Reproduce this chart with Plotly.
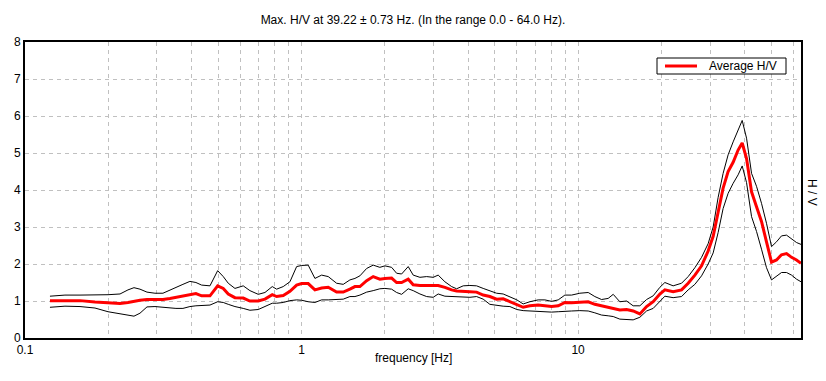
import plotly.graph_objects as go

# Frequencies (Hz)
freq = [0.1231, 0.1395, 0.1581, 0.1791, 0.1996, 0.2206, 0.2357, 0.2478, 0.2605, 0.2761,
        0.2951, 0.3154, 0.3343, 0.3514, 0.3725, 0.3948, 0.4150, 0.4352, 0.4665, 0.4974,
        0.5211, 0.5433, 0.5744, 0.6154, 0.6506, 0.6974, 0.7375, 0.7837, 0.8128, 0.8586,
        0.9080, 0.9600, 1.001, 1.057, 1.118, 1.182, 1.249, 1.339, 1.415, 1.496,
        1.560, 1.626, 1.720, 1.816, 1.920, 2.002, 2.117, 2.207, 2.301, 2.431,
        2.534, 2.680, 2.834, 2.993, 3.120, 3.299, 3.489, 3.637, 3.843, 4.063,
        4.295, 4.538, 4.798, 5.074, 5.360, 5.668, 6.007, 6.331, 6.694, 7.173,
        7.586, 8.021, 8.475, 8.960, 9.474, 10.15, 10.88, 11.50, 12.16, 12.85,
        13.40, 14.16, 14.98, 15.82, 16.73, 17.69, 18.69, 19.76, 20.60, 22.07,
        23.67, 25.01, 26.45, 27.96, 29.54, 30.80, 32.10, 33.46, 34.88, 36.37,
        37.91, 39.22, 40.67, 42.40, 44.19, 46.06, 48.02, 50.07, 52.20, 54.41,
        56.73, 59.15, 61.66, 64.0]

avg_hv = [1.01, 1.01, 1.01, 0.97, 0.95, 0.93, 0.96, 1.00, 1.02, 1.04,
          1.04, 1.04, 1.07, 1.10, 1.13, 1.18, 1.20, 1.14, 1.14, 1.41,
          1.34, 1.19, 1.09, 1.08, 1.00, 1.00, 1.05, 1.17, 1.12, 1.15,
          1.26, 1.43, 1.47, 1.47, 1.30, 1.35, 1.37, 1.24, 1.24, 1.32,
          1.39, 1.39, 1.55, 1.66, 1.59, 1.61, 1.62, 1.50, 1.50, 1.59,
          1.44, 1.42, 1.42, 1.41, 1.42, 1.37, 1.30, 1.27, 1.27, 1.25,
          1.24, 1.16, 1.12, 1.05, 1.06, 0.98, 0.91, 0.83, 0.87, 0.89,
          0.87, 0.85, 0.87, 0.96, 0.95, 0.96, 0.98, 0.91, 0.87, 0.85,
          0.82, 0.76, 0.77, 0.73, 0.65, 0.85, 0.98, 1.19, 1.30, 1.25,
          1.30, 1.48, 1.70, 1.95, 2.35, 2.75, 3.40, 4.05, 4.50, 4.75,
          5.08, 5.27, 4.85, 3.95, 3.55, 3.15, 2.60, 2.05, 2.11, 2.25,
          2.28, 2.18, 2.11, 2.02]

upper_hv = [1.13, 1.16, 1.16, 1.16, 1.17, 1.19, 1.30, 1.36, 1.32, 1.24,
            1.21, 1.21, 1.30, 1.37, 1.45, 1.53, 1.50, 1.43, 1.41, 1.82,
            1.66, 1.48, 1.34, 1.41, 1.28, 1.18, 1.23, 1.39, 1.32, 1.39,
            1.52, 1.93, 1.96, 1.97, 1.61, 1.70, 1.66, 1.48, 1.45, 1.57,
            1.61, 1.68, 1.88, 1.97, 1.91, 1.95, 1.91, 1.75, 1.73, 1.93,
            1.70, 1.64, 1.66, 1.64, 1.70, 1.52, 1.39, 1.33, 1.41, 1.42,
            1.41, 1.34, 1.28, 1.21, 1.19, 1.12, 1.03, 0.92, 0.98, 1.03,
            1.03, 0.99, 1.03, 1.16, 1.16, 1.21, 1.23, 1.12, 1.04, 1.07,
            1.18, 0.98, 1.00, 0.87, 0.87, 1.04, 1.14, 1.37, 1.50, 1.41,
            1.48, 1.66, 1.90, 2.18, 2.55, 3.00, 3.80, 4.45, 4.95, 5.30,
            5.60, 5.88, 5.40, 4.45, 4.10, 3.64, 3.10, 2.47, 2.60, 2.76,
            2.78, 2.67, 2.58, 2.53]

lower_hv = [0.83, 0.86, 0.85, 0.81, 0.71, 0.65, 0.61, 0.59, 0.67, 0.84,
            0.85, 0.83, 0.80, 0.80, 0.80, 0.85, 0.87, 0.87, 0.89, 0.98,
            0.96, 0.91, 0.85, 0.80, 0.75, 0.77, 0.86, 0.94, 0.94, 0.96,
            1.01, 1.03, 1.02, 0.98, 0.96, 1.03, 1.03, 1.03, 1.05, 1.12,
            1.12, 1.16, 1.24, 1.28, 1.33, 1.34, 1.32, 1.23, 1.18, 1.33,
            1.28, 1.19, 1.12, 1.10, 1.19, 1.13, 1.12, 1.13, 1.11, 1.10,
            1.12, 1.05, 0.91, 0.88, 0.86, 0.85, 0.77, 0.74, 0.73, 0.73,
            0.72, 0.70, 0.71, 0.73, 0.73, 0.74, 0.73, 0.68, 0.62, 0.60,
            0.58, 0.51, 0.49, 0.49, 0.56, 0.73, 0.80, 0.98, 1.13, 1.09,
            1.12, 1.30, 1.45, 1.68, 2.00, 2.30, 2.85, 3.50, 3.91, 4.18,
            4.41, 4.65, 4.20, 3.28, 2.88, 2.40, 1.90, 1.57, 1.66, 1.77,
            1.77, 1.70, 1.59, 1.52]

x_grid_vals = [0.1, 0.2, 0.3, 0.4, 0.5, 0.6, 0.7, 0.8, 0.9,
               1, 2, 3, 4, 5, 6, 7, 8, 9,
               10, 20, 30, 40, 50, 60]
x_labels = {0.1: "0.1", 1: "1", 10: "10"}
y_ticks = [0, 1, 2, 3, 4, 5, 6, 7, 8]

title_text = "Max. H/V at 39.22 \u00b1 0.73 Hz. (In the range 0.0 - 64.0 Hz)."
legend_label = "Average H/V"

FONT = "Liberation Sans, Arial, sans-serif"
W, H = 826, 381
ML, MR, MT, MB = 25, 25, 42, 43
PW, PH = W - ML - MR, H - MT - MB


def px_x(px):
    return (px - ML) / PW


def px_y(py):
    return (H - MB - py) / PH


fig = go.Figure()
fig.add_trace(go.Scatter(x=freq, y=upper_hv, mode="lines",
                         line=dict(color="black", width=1),
                         showlegend=False, hoverinfo="skip"))
fig.add_trace(go.Scatter(x=freq, y=lower_hv, mode="lines",
                         line=dict(color="black", width=1),
                         showlegend=False, hoverinfo="skip"))
fig.add_trace(go.Scatter(x=freq, y=avg_hv, mode="lines",
                         line=dict(color="#ff0000", width=3),
                         name=legend_label, showlegend=False))

fig.update_layout(
    width=W, height=H,
    margin=dict(l=ML, r=MR, t=MT, b=MB, autoexpand=False),
    paper_bgcolor="white", plot_bgcolor="white",
    font=dict(family=FONT, size=12, color="black"),
    title=dict(text=title_text, x=0.5, xanchor="center",
               y=1 - 20 / H, yanchor="middle",
               font=dict(family=FONT, size=12, color="black")),
    showlegend=False,
)

fig.update_xaxes(
    type="log", range=[-1, 1.80618],
    tickvals=x_grid_vals,
    ticktext=[x_labels.get(v, "") for v in x_grid_vals],
    showgrid=True, gridcolor="#c0c0c0", griddash="4px,4px", gridwidth=1,
    showline=True, linecolor="black", linewidth=2, mirror=True,
    ticks="", zeroline=False, automargin=False,
    tickfont=dict(family=FONT, size=12, color="black"),
)
fig.update_yaxes(
    range=[0, 8], tickvals=y_ticks,
    showgrid=True, gridcolor="#c0c0c0", griddash="4px,4px", gridwidth=1,
    showline=True, linecolor="black", linewidth=2, mirror=True,
    ticks="", zeroline=False, automargin=False,
    tickfont=dict(family=FONT, size=12, color="black"),
)

# Legend box (drawn like the original: thin black frame, red sample line)
fig.add_shape(type="rect", xref="paper", yref="paper",
              x0=px_x(657), x1=px_x(786), y0=px_y(74), y1=px_y(58),
              line=dict(color="black", width=1), fillcolor="white", layer="above")
fig.add_shape(type="line", xref="paper", yref="paper",
              x0=px_x(665), x1=px_x(697), y0=px_y(66), y1=px_y(66),
              line=dict(color="#ff0000", width=3), layer="above")
fig.add_annotation(text=legend_label, xref="paper", yref="paper",
                   x=px_x(707), y=px_y(66), xanchor="left", yanchor="middle",
                   showarrow=False, font=dict(family=FONT, size=12, color="black"))

fig.add_annotation(text="frequency [Hz]", xref="paper", yref="paper",
                   x=0.5, y=px_y(358), xanchor="center", yanchor="middle",
                   showarrow=False, font=dict(family=FONT, size=12, color="black"))
fig.add_annotation(text="H / V", xref="paper", yref="paper",
                   x=px_x(812), y=px_y(192), xanchor="center", yanchor="middle",
                   textangle=90, showarrow=False,
                   font=dict(family=FONT, size=12, color="black"))

fig.write_html("out.html",
               config={"displayModeBar": False, "staticPlot": True},
               post_script="document.body.style.margin='0';document.body.style.overflow='hidden';")
